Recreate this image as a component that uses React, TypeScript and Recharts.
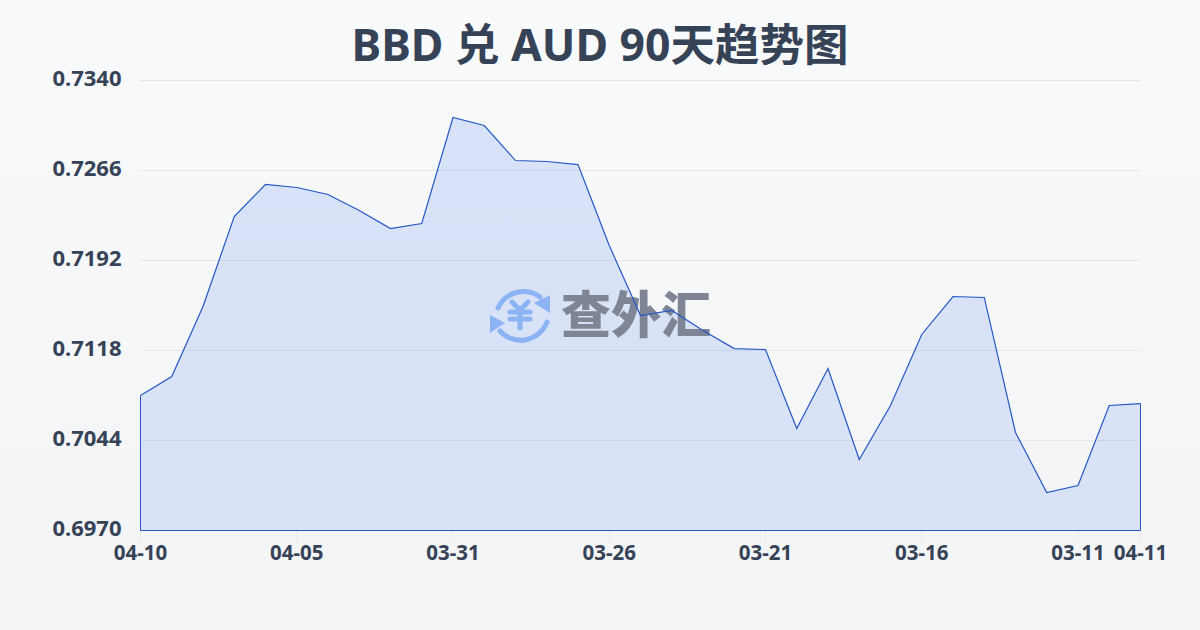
import { AreaChart, Area, XAxis, YAxis, CartesianGrid, ReferenceLine } from "recharts";

const FONT = '"Noto Sans", "Noto Sans CJK SC", sans-serif';
const TEXT = "#364256";

const dates = [
  "04-10", "04-09", "04-08", "04-07", "04-06", "04-05", "04-04", "04-03", "04-02", "04-01", "03-31",
  "03-30", "03-29", "03-28", "03-27", "03-26", "03-25", "03-24", "03-23", "03-22", "03-21",
  "03-20", "03-19", "03-18", "03-17", "03-16", "03-15", "03-14", "03-13", "03-12", "03-11",
  "03-10", "04-11",
];

const rates = [
  0.7081, 0.70966, 0.71542, 0.72282, 0.72545, 0.7252, 0.72463, 0.72331, 0.72183, 0.72224, 0.73096,
  0.7303, 0.72742, 0.72734, 0.72709, 0.72043, 0.71468, 0.71509, 0.71344, 0.71196, 0.71188,
  0.70539, 0.71032, 0.70284, 0.70728, 0.71312, 0.71624, 0.71616, 0.70506, 0.70012, 0.7007,
  0.70728, 0.70744,
];

const xTicks = ["04-10", "04-05", "03-31", "03-26", "03-21", "03-16", "03-11", "04-11"];
const yTicks = [0.697, 0.7044, 0.7118, 0.7192, 0.7266, 0.734];
const yDomain = [0.697, 0.734];

const data = dates.map((date, i) => ({ date, rate: rates[i] }));

const LINE = "#2558c4";
const first = dates[0];
const last = dates[dates.length - 1];

function Watermark() {
  return (
    <svg width={1200} height={630} style={{ position: "absolute", left: 0, top: 0 }}>
      <g fill="none" stroke="#8cb4f5" strokeWidth={5} strokeLinecap="round">
        <path d="M498 308 A28 28 0 0 1 540 297" />
        <path d="M547 322 A28 28 0 0 1 500 331" />
        <path d="M512 302 L520 310 L528 302" />
        <path d="M510 312 H530" />
        <path d="M510 319 H530" />
        <path d="M520 310 V328" />
      </g>
      <path d="M550 295 L550 313 L534 303 Z" fill="#8cb4f5" />
      <path d="M490 315 L490 333 L505 323 Z" fill="#8cb4f5" />
      <text x={561} y={333} fontFamily='"Noto Sans CJK SC"' fontWeight={900} fontSize={50} fill="#7f8594">
        查外汇
      </text>
    </svg>
  );
}

export default function App() {
  return (
    <div
      style={{
        position: "absolute",
        left: 0,
        top: 0,
        width: 1200,
        height: 630,
        overflow: "hidden",
        background: "linear-gradient(180deg, #f8fafc 0%, #f3f4f6 100%)",
        fontFamily: FONT,
      }}
    >
      <div
        style={{
          position: "absolute",
          left: 0,
          top: 12,
          width: 1200,
          textAlign: "center",
          fontSize: 44.5,
          fontWeight: 700,
          lineHeight: "64px",
          color: TEXT,
        }}
      >
        BBD 兑 AUD 90天趋势图
      </div>
      {/* axes, grid and fill */}
      <div style={{ position: "absolute", left: 0, top: 0 }}>
        <AreaChart width={1200} height={630} data={data} margin={{ top: 80.5, right: 59.5, bottom: 29.5, left: 20.5 }}>
          <defs>
            <linearGradient id="rateFill" x1="0" y1="0" x2="0" y2="1">
              <stop offset="0%" stopColor="#2563eb" stopOpacity={0.15} />
              <stop offset="100%" stopColor="#2563eb" stopOpacity={0.13} />
            </linearGradient>
          </defs>
          <CartesianGrid vertical={false} stroke="#e5e7eb" strokeWidth={1} />
          <XAxis
            dataKey="date"
            scale="point"
            ticks={xTicks}
            interval={0}
            axisLine={false}
            tickLine={{ stroke: "#e5e7eb" }}
            tickSize={10}
            tickMargin={5}
            height={70}
            tick={{ fontSize: 20.5, fontWeight: 700, fill: TEXT, fontFamily: FONT }}
          />
          <YAxis
            domain={yDomain}
            ticks={yTicks}
            width={120}
            axisLine={false}
            tickLine={false}
            tickMargin={13}
            tickFormatter={(v: number) => v.toFixed(4)}
            tick={{ fontSize: 22, fontWeight: 700, fill: TEXT, fontFamily: FONT, dy: -2 }}
          />
          <Area
            type="linear"
            dataKey="rate"
            stroke="none"
            fill="url(#rateFill)"
            fillOpacity={1}
            isAnimationActive={false}
            dot={false}
            activeDot={false}
          />
        </AreaChart>
      </div>
      <Watermark />
      {/* outline goes in its own chart so it draws over the watermark */}
      <div style={{ position: "absolute", left: 0, top: 0 }}>
        <AreaChart width={1200} height={630} data={data} margin={{ top: 80.5, right: 59.5, bottom: 99.5, left: 140.5 }}>
          <XAxis dataKey="date" scale="point" hide />
          <YAxis domain={yDomain} hide />
          <Area
            type="linear"
            dataKey="rate"
            stroke={LINE}
            strokeWidth={1.2}
            fill="none"
            isAnimationActive={false}
            dot={false}
            activeDot={false}
          />
          <ReferenceLine y={0.697} stroke={LINE} strokeWidth={1} />
          <ReferenceLine segment={[{ x: first, y: 0.697 }, { x: first, y: rates[0] }]} stroke={LINE} strokeWidth={1} />
          <ReferenceLine
            segment={[{ x: last, y: 0.697 }, { x: last, y: rates[rates.length - 1] }]}
            stroke={LINE}
            strokeWidth={1}
          />
        </AreaChart>
      </div>
    </div>
  );
}
